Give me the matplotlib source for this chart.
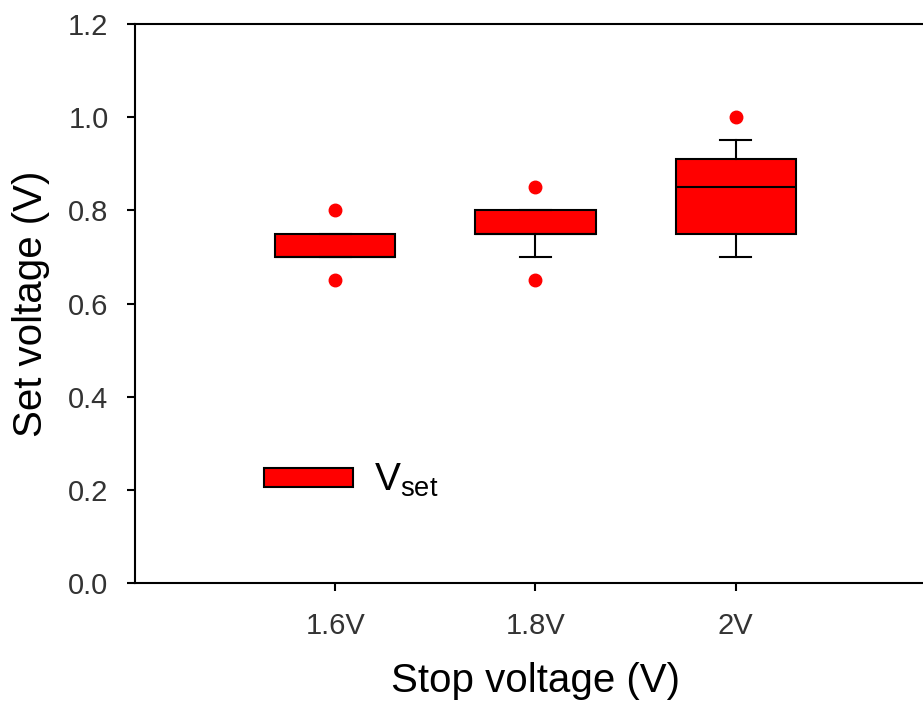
import matplotlib
matplotlib.use("Agg")
import matplotlib.pyplot as plt
from matplotlib.patches import Patch

plt.rcParams['font.family'] = ['Liberation Sans', 'DejaVu Sans']
plt.rcParams['mathtext.default'] = 'regular'

# stop-voltage groups and box summary of the set voltage (V)
labels = ['1.6V', '1.8V', '2V']
q1 = [0.70, 0.75, 0.75]
med = [0.70, 0.75, 0.85]
q3 = [0.75, 0.80, 0.91]
whislo = [0.70, 0.70, 0.70]
whishi = [0.75, 0.80, 0.95]
fliers = [[0.65, 0.80], [0.65, 0.85], [1.00]]

stats = []
for i in range(len(labels)):
    stats.append(dict(label=labels[i], q1=q1[i], med=med[i], q3=q3[i],
                      whislo=whislo[i], whishi=whishi[i], fliers=fliers[i]))

fig = plt.figure(figsize=(9.23, 7.06), dpi=100)
ax = fig.add_axes([0.14626, 0.17422, 0.86782, 0.79178])

lw = 1.5
ax.bxp(stats, positions=[1, 2, 3], widths=0.6, capwidths=0.156,
       patch_artist=True,
       boxprops=dict(facecolor='red', edgecolor='black', linewidth=lw),
       medianprops=dict(color='black', linewidth=lw),
       whiskerprops=dict(color='black', linewidth=lw),
       capprops=dict(color='black', linewidth=lw),
       flierprops=dict(marker='o', markerfacecolor='red', markeredgecolor='red',
                       markersize=9, linestyle='none'))

ax.set_xlim(0, 4)
ax.set_ylim(0, 1.2)
ax.set_yticks([0.0, 0.2, 0.4, 0.6, 0.8, 1.0, 1.2])
ax.set_yticklabels([f'{v:.1f}' for v in [0.0, 0.2, 0.4, 0.6, 0.8, 1.0, 1.2]])
ax.set_xticks([1, 2, 3])
ax.set_xticklabels(labels)

for s in ax.spines.values():
    s.set_linewidth(lw)
ax.spines['right'].set_visible(False)

ax.tick_params(axis='both', direction='out', length=6, width=lw,
               labelsize=21, labelcolor='#333333', top=False, right=False)
ax.tick_params(axis='y', pad=13)
ax.tick_params(axis='x', pad=15)

ax.set_xlabel('Stop voltage (V)', fontsize=29, labelpad=16)
ax.set_ylabel('Set voltage (V)', fontsize=29, labelpad=13)

handle = Patch(facecolor='red', edgecolor='black', linewidth=lw)
ax.legend([handle], ['V$_{set}$'], loc='center left',
          bbox_to_anchor=(0.161, 0.183), frameon=False, fontsize=28,
          borderpad=0, borderaxespad=0, handlelength=2.3,
          handleheight=0.38, handletextpad=0.54)

fig.savefig('out.png', dpi=100)
